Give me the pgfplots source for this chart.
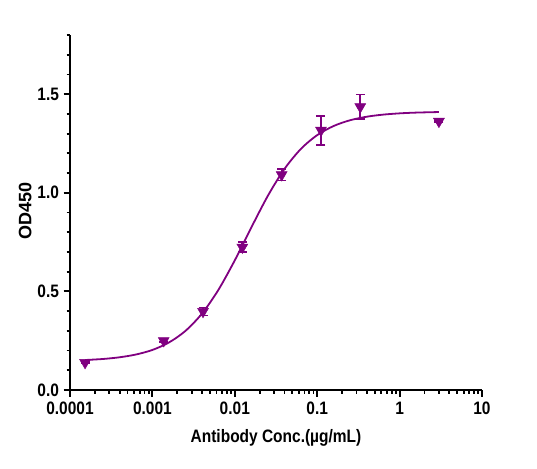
\documentclass[border=0pt]{standalone}
\usepackage{fontspec}
\setmainfont{Liberation Sans}[FakeStretch=0.86]
\newfontfamily\ylabfont{Liberation Sans}
\usepackage{pgfplots}
\pgfplotsset{compat=1.18}
\definecolor{pp}{RGB}{128,0,128}
\begin{document}
\begin{tikzpicture}
\useasboundingbox (-70pt,-78pt) rectangle (467pt,390pt);
\begin{axis}[
  at={(0,0)}, anchor=south west,
  width=412pt, height=355pt, scale only axis,
  xmode=log, xmin=1e-4, xmax=10,
  ymin=0, ymax=1.8,
  axis x line*=bottom, axis y line*=left,
  axis line style={line width=2pt, -},
  xtick={1e-4,1e-3,1e-2,1e-1,1,10},
  xticklabels={0.0001,0.001,0.01,0.1,1,10},
  ytick={0,0.5,1,1.5},
  yticklabels={0.0,0.5,1.0,1.5},
  minor ytick={0.1,0.2,0.3,0.4,0.6,0.7,0.8,0.9,1.1,1.2,1.3,1.4,1.6,1.7,1.8},
  tick align=outside,
  major tick length=6.5pt, minor tick length=3.5pt,
  every tick/.style={line width=1.8pt, black},
  tick label style={font=\fontsize{18}{20}\selectfont\bfseries},
  xticklabel style={yshift=-2pt},
  yticklabel style={xshift=-1pt},
  xlabel={Antibody Conc.(µg/mL)},
  ylabel={OD450},
  xlabel style={at={(axis description cs:0.5,0)}, anchor=center, yshift=-48pt, font=\fontsize{18}{20}\selectfont\bfseries},
  ylabel style={at={(axis description cs:-0.109,0.504)}, anchor=center, font=\ylabfont\fontsize{18}{20}\selectfont\bfseries},
  clip=false,
]
\addplot[pp, line width=1.8pt, smooth, no markers] coordinates {
(0.0001524,0.1520) (0.0002512,0.1573) (0.0003981,0.1658) (0.0006310,0.1799)
(0.001,0.2031) (0.001585,0.2407) (0.002512,0.2993) (0.003981,0.3865)
(0.006310,0.5070) (0.01,0.6575) (0.01585,0.8236) (0.02512,0.9838)
(0.03981,1.1192) (0.06310,1.2215) (0.1,1.2924) (0.1585,1.3387)
(0.2512,1.3679) (0.3981,1.3856) (0.6310,1.3963) (1,1.4027)
(1.585,1.4065) (3.0,1.4094)
};
\addplot[pp, only marks, mark=triangle*, mark size=6.3pt, mark options={rotate=180, fill=pp, draw=pp, line width=0.5pt},
  error bars/.cd, y dir=both, y explicit,
  error bar style={line width=1.8pt, pp},
  error mark options={mark size=4.5pt, line width=1.8pt, pp, rotate=90}]
coordinates {
(0.00015242,0.139) +- (0,0.005)
(0.0013717,0.250) +- (0,0.008)
(0.0041152,0.398) +- (0,0.020)
(0.012346,0.724) +- (0,0.025)
(0.037037,1.091) +- (0,0.029)
(0.11111,1.317) +- (0,0.073)
(0.33333,1.436) +- (0,0.062)
(3.0,1.362) +- (0,0.004)
};
\end{axis}
\end{tikzpicture}
\end{document}
